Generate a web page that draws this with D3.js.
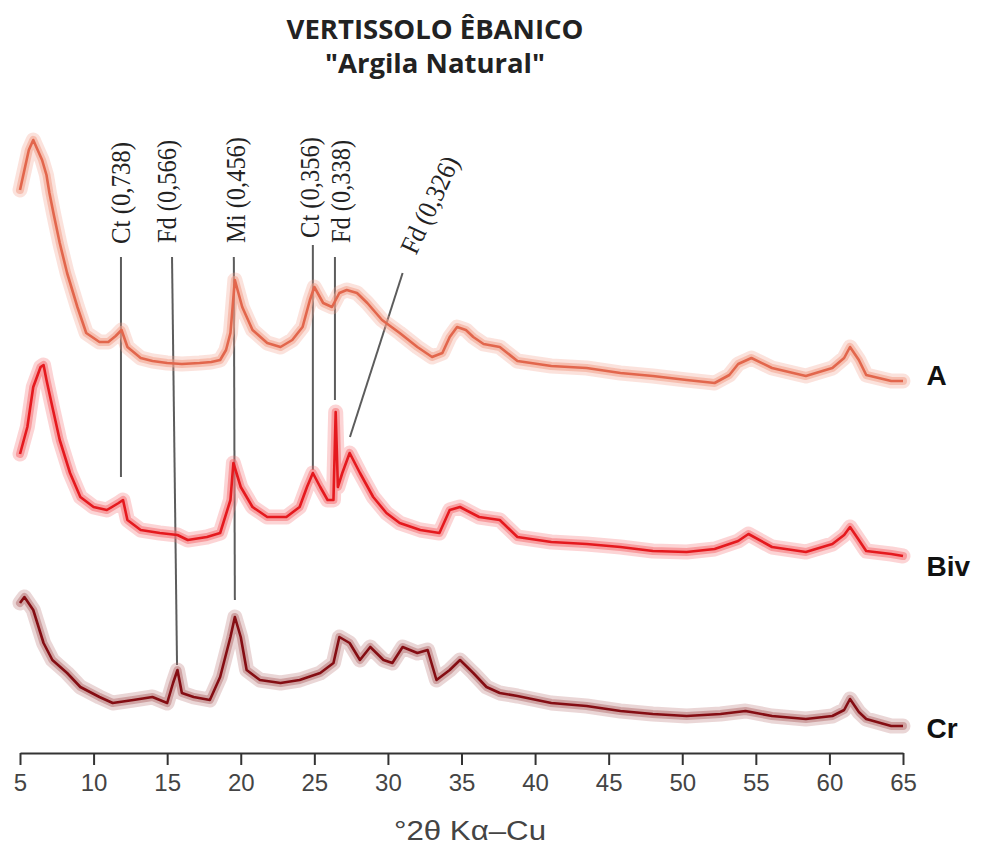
<!DOCTYPE html>
<html>
<head>
<meta charset="utf-8">
<script src="https://cdn.jsdelivr.net/npm/d3@7"></script>
<style>
  html, body { margin: 0; padding: 0; background: #fff; }
  svg { display: block; }
</style>
</head>
<body>
<svg id="chart" width="981" height="852"></svg>
<script>
// ---------- DATA ----------
const titleLines = ["VERTISSOLO ÊBANICO", "\"Argila Natural\""];
const xLabel = "°2θ Kα–Cu";
const xTicks = [5, 10, 15, 20, 25, 30, 35, 40, 45, 50, 55, 60, 65];

const seriesNames = ["A", "Biv", "Cr"];

// Sample A (relative intensity, stacked)
const thetaA = [5.0,5.3,5.6,5.9,6.2,6.5,6.8,7.0,7.3,7.7,8.2,8.9,9.5,10.4,11.0,11.5,11.9,12.3,13.2,14.0,15.0,16.0,17.2,18.0,18.6,19.0,19.3,19.6,20.1,20.8,21.8,22.7,23.5,24.2,24.7,25.0,25.6,26.2,26.7,27.2,27.9,28.6,29.6,30.8,32.0,33.0,33.7,34.2,34.7,35.3,35.8,36.5,37.6,38.8,41.1,43.5,45.8,48.0,50.3,52.2,53.2,53.8,54.7,56.1,58.4,60.2,61.0,61.4,62.0,62.5,64.2,65.0];
const intA = [562,582,602,612,602,592,577,559,537,509,479,445,419,410,410,416,422,405,394,391,389,388,389,390,392,402,419,472,445,422,409,405,412,425,452,465,449,445,459,462,459,449,432,419,405,395,399,415,425,422,415,408,405,391,386,384,379,376,372,369,377,388,394,384,376,384,394,405,392,377,371,371];

// Sample Biv
const thetaBiv = [5.0,5.5,5.9,6.4,6.6,6.8,7.2,7.7,8.4,9.1,10.0,10.9,11.7,12.0,12.3,13.2,14.5,15.7,16.4,17.7,18.6,19.3,19.5,20.0,20.8,21.8,23.1,24.0,24.5,24.9,25.4,25.9,26.3,26.45,26.6,26.9,27.4,28.1,29.0,29.9,30.8,32.2,33.5,34.2,34.9,36.2,37.6,38.8,41.1,43.5,45.8,48.0,50.3,52.2,53.8,54.5,56.1,58.4,60.2,61.0,61.4,62.0,62.5,64.2,65.0];
const intBiv = [298,325,365,385,387,372,345,312,279,255,245,242,249,252,232,222,219,217,212,215,219,252,289,265,245,235,235,245,265,279,265,252,252,340,265,279,299,279,255,239,229,222,219,242,245,235,232,215,210,208,205,201,200,203,211,218,205,200,208,217,225,212,201,198,196];

// Sample Cr
const thetaCr = [5.0,5.3,5.9,6.6,7.2,8.2,9.1,10.4,11.3,12.7,14.0,15.0,15.4,15.7,16.0,16.8,17.9,18.6,19.3,19.6,20.0,20.4,21.3,22.7,24.0,25.4,26.3,26.7,27.4,28.1,28.8,29.7,30.3,31.0,32.0,32.7,33.3,34.2,34.9,35.8,36.7,37.6,38.8,41.1,43.5,45.8,48.0,50.3,52.6,54.3,56.1,58.4,60.2,61.0,61.4,62.0,62.5,64.2,65.0];
const intCr = [149,155,142,109,92,79,65,55,49,52,55,49,69,82,59,55,52,75,115,135,115,82,72,69,72,79,89,115,109,92,105,92,89,105,99,102,72,82,92,79,65,59,56,49,46,41,38,36,38,41,36,33,36,42,53,40,33,26,26];

// Series label anchor (theta, intensity) at the right end
const seriesLabelTheta = [66.6, 66.6, 66.6];
const seriesLabelInt = [367, 176, 14];

// Peak annotations
const peakLabels = ["Ct (0,738)", "Fd (0,566)", "Mi (0,456)", "Ct (0,356)", "Fd (0,338)", "Fd (0,326)"];
const peakLabelTheta = [11.86, 14.99, 19.67, 24.70, 26.80, 31.36];
const peakLabelInt = [508, 509, 509, 514, 509, 500];
const peakLabelAngle = [-90, -90, -90, -90, -90, -65];
const peakLabelLength = [102, 103, 106, 101, 103, 104];
const leaderTopTheta = [11.86, 15.33, 19.53, 24.90, 26.40, 31.00];
const leaderTopInt = [495, 495, 495, 507, 495, 479];
const leaderBotTheta = [11.86, 15.67, 19.60, 24.90, 26.40, 27.42];
const leaderBotInt = [275, 87, 152, 282, 352, 315];

// ---------- STYLE ----------
const coreColors = ["#e2664c", "#e5191e", "#850d13"];
const haloColors = ["#f2a08a", "#f47073", "#b87878"];

const svg = d3.select("#chart");

const x = d3.scaleLinear().domain([5, 65]).range([20, 903]);
const y = d3.scaleLinear().domain([0, 700]).range([752, 52]);

const series = [
  { name: seriesNames[0], theta: thetaA, val: intA },
  { name: seriesNames[1], theta: thetaBiv, val: intBiv },
  { name: seriesNames[2], theta: thetaCr, val: intCr }
];

const line = d3.line().x(d => x(d[0])).y(d => y(d[1])).curve(d3.curveLinear);

// Title
svg.append("g").selectAll("text").data(titleLines).join("text")
  .attr("x", 435).attr("y", (d, i) => 39 + i * 34)
  .attr("text-anchor", "middle")
  .attr("font-family", "'Open Sans', 'Noto Sans', sans-serif")
  .attr("font-weight", 700)
  .attr("font-size", 27.5)
  .attr("fill", "#222")
  .text(d => d);

// Leader lines (behind traces)
const leaders = svg.append("g");
peakLabels.forEach((lab, i) => {
  leaders.append("line")
    .attr("x1", x(leaderTopTheta[i])).attr("y1", y(leaderTopInt[i]))
    .attr("x2", x(leaderBotTheta[i])).attr("y2", y(leaderBotInt[i]))
    .attr("stroke", "#5c5c5c").attr("stroke-width", 2);
});

// Traces
const traces = svg.append("g");
series.forEach((s, i) => {
  const pts = s.theta.map((t, k) => [t, s.val[k]]);
  traces.append("path").datum(pts)
    .attr("d", line).attr("fill", "none")
    .attr("stroke", haloColors[i]).attr("stroke-width", 15)
    .attr("stroke-opacity", 0.3)
    .attr("stroke-linejoin", "round").attr("stroke-linecap", "round");
  traces.append("path").datum(pts)
    .attr("d", line).attr("fill", "none")
    .attr("stroke", haloColors[i]).attr("stroke-width", 8)
    .attr("stroke-opacity", 0.55)
    .attr("stroke-linejoin", "round").attr("stroke-linecap", "round");
  traces.append("path").datum(pts)
    .attr("d", line).attr("fill", "none")
    .attr("stroke", coreColors[i]).attr("stroke-width", 2.6)
    .attr("stroke-linejoin", "round");
});

// Peak labels
const plab = svg.append("g");
peakLabels.forEach((lab, i) => {
  const px = x(peakLabelTheta[i]), py = y(peakLabelInt[i]);
  plab.append("text")
    .attr("transform", `translate(${px},${py}) rotate(${peakLabelAngle[i]})`)
    .attr("dy", "0.33em")
    .attr("font-family", "'Liberation Serif', 'DejaVu Serif', serif")
    .attr("font-size", 27)
    .attr("textLength", peakLabelLength[i])
    .attr("lengthAdjust", "spacingAndGlyphs")
    .attr("fill", "#222")
    .text(lab);
});

// Series labels
svg.append("g").selectAll("text").data(series).join("text")
  .attr("x", (d, i) => x(seriesLabelTheta[i]))
  .attr("y", (d, i) => y(seriesLabelInt[i]))
  .attr("font-family", "'Liberation Sans', Arial, sans-serif")
  .attr("font-weight", 700)
  .attr("font-size", 28)
  .attr("fill", "#111")
  .text(d => d.name);

// X axis
const axis = d3.axisBottom(x).tickValues(xTicks).tickSize(12).tickSizeOuter(0).tickPadding(9)
  .tickFormat(d3.format("d"));
const gx = svg.append("g").attr("transform", "translate(0,753)").call(axis);
gx.select(".domain").attr("stroke", "#333").attr("stroke-width", 2);
gx.selectAll(".tick line").attr("stroke", "#333").attr("stroke-width", 2);
gx.selectAll(".tick text")
  .attr("font-family", "'Liberation Sans', Arial, sans-serif")
  .attr("font-size", 24)
  .attr("fill", "#444");

// X axis title
svg.append("text")
  .attr("x", 470).attr("y", 840)
  .attr("text-anchor", "middle")
  .attr("font-family", "'Liberation Sans', Arial, sans-serif")
  .attr("font-size", 27)
  .attr("fill", "#444")
  .attr("textLength", 152)
  .attr("lengthAdjust", "spacingAndGlyphs")
  .text(xLabel);
</script>
</body>
</html>
